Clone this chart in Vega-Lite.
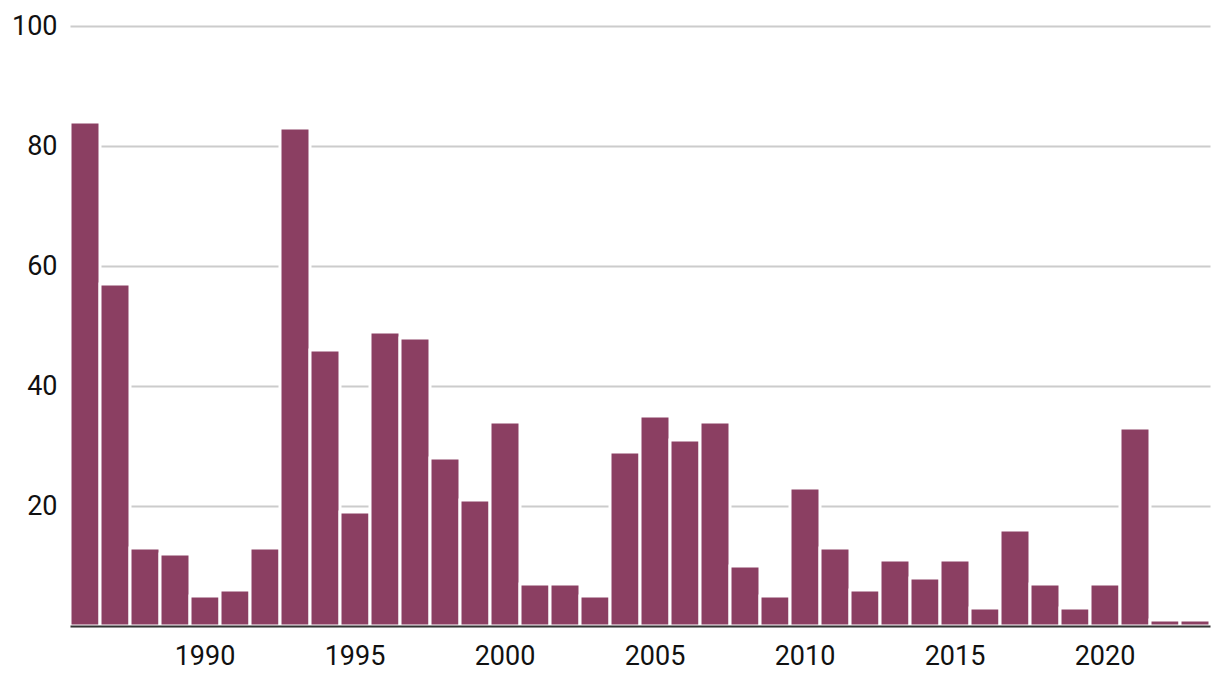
{
  "$schema": "https://vega.github.io/schema/vega-lite/v6.json",
  "width": 1140,
  "height": 600,
  "autosize": {"type": "none"},
  "padding": {"left": 70, "top": 26, "right": 10, "bottom": 62},
  "background": "white",
  "config": {"view": {"stroke": null}, "font": "Roboto"},
  "data": {"values": [
    {"year": 1986, "value": 84}, {"year": 1987, "value": 57}, {"year": 1988, "value": 13},
    {"year": 1989, "value": 12}, {"year": 1990, "value": 5}, {"year": 1991, "value": 6},
    {"year": 1992, "value": 13}, {"year": 1993, "value": 83}, {"year": 1994, "value": 46},
    {"year": 1995, "value": 19}, {"year": 1996, "value": 49}, {"year": 1997, "value": 48},
    {"year": 1998, "value": 28}, {"year": 1999, "value": 21}, {"year": 2000, "value": 34},
    {"year": 2001, "value": 7}, {"year": 2002, "value": 7}, {"year": 2003, "value": 5},
    {"year": 2004, "value": 29}, {"year": 2005, "value": 35}, {"year": 2006, "value": 31},
    {"year": 2007, "value": 34}, {"year": 2008, "value": 10}, {"year": 2009, "value": 5},
    {"year": 2010, "value": 23}, {"year": 2011, "value": 13}, {"year": 2012, "value": 6},
    {"year": 2013, "value": 11}, {"year": 2014, "value": 8}, {"year": 2015, "value": 11},
    {"year": 2016, "value": 3}, {"year": 2017, "value": 16}, {"year": 2018, "value": 7},
    {"year": 2019, "value": 3}, {"year": 2020, "value": 7}, {"year": 2021, "value": 33},
    {"year": 2022, "value": 1}, {"year": 2023, "value": 1}
  ]},
  "mark": {"type": "bar", "color": "#8b3f62", "stroke": "white", "strokeWidth": 3},
  "encoding": {
    "x": {
      "field": "year", "type": "ordinal",
      "scale": {"paddingInner": 0, "paddingOuter": 0},
      "axis": {
        "title": null, "values": [1990, 1995, 2000, 2005, 2010, 2015, 2020],
        "labelAngle": 0, "ticks": false, "labelPadding": 17,
        "labelFontSize": 27, "labelColor": "#111111",
        "domainColor": "#333333", "domainWidth": 2.2, "zindex": 1
      }
    },
    "y": {
      "field": "value", "type": "quantitative",
      "scale": {"domain": [0, 100]},
      "axis": {
        "title": null, "values": [0, 20, 40, 60, 80, 100], "labelExpr": "datum.value == 0 ? '' : datum.label",
        "domain": false, "ticks": false, "labelPadding": 13,
        "labelFontSize": 27, "labelColor": "#111111",
        "gridColor": "#cccccc", "gridWidth": 1.8, "zindex": 0
      }
    }
  }
}
